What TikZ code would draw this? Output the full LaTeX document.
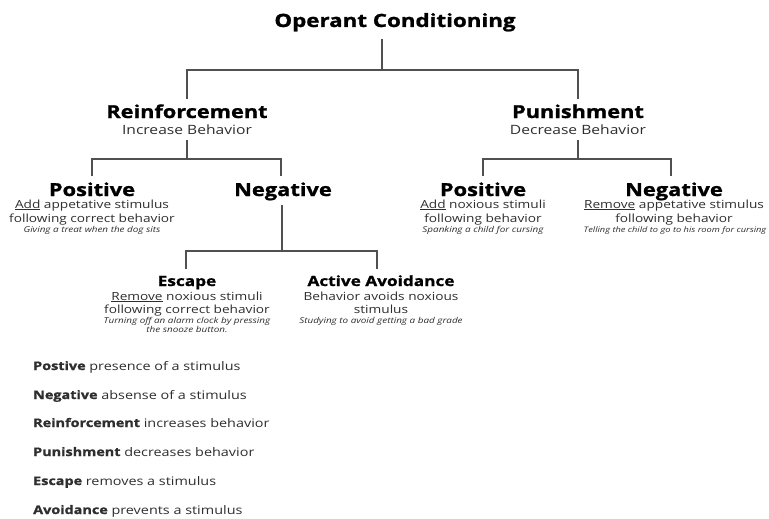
\documentclass[tikz,border=0pt]{standalone}
\usepackage{fontspec}
\setmainfont{Open Sans}
\newfontfamily\hd{Open Sans}[FakeStretch=1.22, BoldFeatures={FakeBold=1.2}]
\definecolor{txt}{HTML}{2E2E2E}
\definecolor{ln}{HTML}{505050}
\tikzset{
  conn/.style={draw=ln, line width=1.2pt},
  tA/.style={anchor=base, inner sep=0pt, font=\hd\bfseries\fontsize{18.3}{22}\selectfont, text=black},
  tB/.style={anchor=base, inner sep=0pt, font=\hd\bfseries\fontsize{17.8}{20}\selectfont, text=black},
  tC/.style={anchor=base, inner sep=0pt, font=\hd\bfseries\fontsize{17.9}{20}\selectfont, text=black},
  tD/.style={anchor=base, inner sep=0pt, font=\hd\bfseries\fontsize{14.1}{16}\selectfont, text=black},
  sub/.style={anchor=base, inner sep=0pt, font=\hd\fontsize{12.8}{15}\selectfont, text=txt},
  desc/.style={anchor=base, inner sep=0pt, font=\hd\fontsize{11.2}{13}\selectfont, text=txt},
  ex/.style={anchor=base, inner sep=0pt, font=\hd\itshape\fontsize{8.1}{9}\selectfont, text=txt},
  exs/.style={anchor=base, inner sep=0pt, font=\hd\itshape\fontsize{7.6}{9}\selectfont, text=txt},
  leg/.style={anchor=base west, inner sep=0pt, font=\hd\fontsize{11.8}{14}\selectfont, text=txt},
}
\newcommand{\ul}[1]{\underline{#1}}
\begin{document}
\begin{tikzpicture}[x=1pt,y=-1pt]
\useasboundingbox[fill=white] (0,0) rectangle (769,519);
% level 0
\node[tA] (oc) at (395,27) {Operant Conditioning};
% level 1
\node[tB] (reinf) at (187,118) {Reinforcement};
\node[sub] (reinfs) at (187,135) {Increase Behavior};
\node[tB] (pun) at (578,118) {Punishment};
\node[sub] (puns) at (578,135) {Decrease Behavior};
% level 2 left
\node[tC] (rpos) at (92,196) {Positive};
\node[desc] (rpos1) at (92,208) {\ul{Add} appetative stimulus};
\node[desc] (rpos2) at (92,222) {following correct behavior};
\node[ex] (rpos3) at (92,232) {Giving a treat when the dog sits};
\node[tC] (rneg) at (283,196) {Negative};
% level 2 right
\node[tC] (ppos) at (483,196) {Positive};
\node[desc] (ppos1) at (483,208) {\ul{Add} noxious stimuli};
\node[desc] (ppos2) at (483,222) {following behavior};
\node[ex] (ppos3) at (483,232) {Spanking a child for cursing};
\node[tC] (pneg) at (674,196) {Negative};
\node[desc] (pneg1) at (674,208) {\ul{Remove} appetative stimulus};
\node[desc] (pneg2) at (674,222) {following behavior};
\node[exs] (pneg3) at (675,232) {Telling the child to go to his room for cursing};
% level 3
\node[tD] (esc) at (187,286) {Escape};
\node[desc] (esc1) at (187,300) {\ul{Remove} noxious stimuli};
\node[desc] (esc2) at (187,313) {following correct behavior};
\node[ex] (esc3) at (187,323) {Turning off an alarm clock by pressing};
\node[ex] (esc4) at (187,332) {the snooze button.};
\node[tD] (av) at (381,286) {Active Avoidance};
\node[desc] (av1) at (381,300) {Behavior avoids noxious};
\node[desc] (av2) at (381,313) {stimulus};
\node[ex] (av3) at (381,323) {Studying to avoid getting a bad grade};
% legend
\node[leg] (l1) at (33,370) {\textbf{Postive} presence of a stimulus};
\node[leg] (l2) at (33,399) {\textbf{Negative} absense of a stimulus};
\node[leg] (l3) at (33,427) {\textbf{Reinforcement} increases behavior};
\node[leg] (l4) at (33,456) {\textbf{Punishment} decreases behavior};
\node[leg] (l5) at (33,485) {\textbf{Escape} removes a stimulus};
\node[leg] (l6) at (33,514) {\textbf{Avoidance} prevents a stimulus};
% connector anchors
\coordinate (oc-s) at (382,39);
\coordinate (reinf-n) at (187,99);
\coordinate (pun-n) at (578,99);
\coordinate (reinf-s) at (187,140);
\coordinate (rpos-n) at (92,176);
\coordinate (rneg-n) at (281,176);
\coordinate (pun-s) at (578,140);
\coordinate (ppos-n) at (483,176);
\coordinate (pneg-n) at (671,176);
\coordinate (rneg-s) at (282,205);
\coordinate (esc-n) at (186,269);
\coordinate (av-n) at (377,269);
% connectors
\draw[conn] (oc-s) -- (oc-s |- 0,70);
\draw[conn] (reinf-n) |- (oc-s |- 0,70) -| (pun-n);
\draw[conn] (reinf-s) -- (reinf-s |- 0,159);
\draw[conn] (rpos-n) |- (reinf-s |- 0,159) -| (rneg-n);
\draw[conn] (pun-s) -- (pun-s |- 0,159);
\draw[conn] (ppos-n) |- (pun-s |- 0,159) -| (pneg-n);
\draw[conn] (rneg-s) -- (rneg-s |- 0,251);
\draw[conn] (esc-n) |- (rneg-s |- 0,251) -| (av-n);
\end{tikzpicture}
\end{document}
